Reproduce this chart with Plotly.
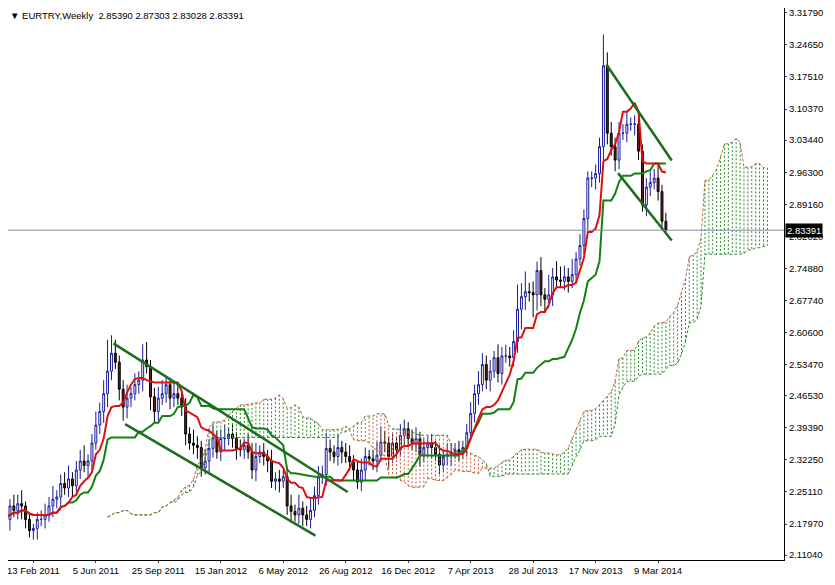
"""EURTRY weekly candles with Ichimoku cloud and channel lines."""

import pandas as pd
import plotly.graph_objects as go

# weekly closes, 13 Feb 2011 onwards
CLOSES = [
    2.19, 2.22, 2.21, 2.225, 2.22, 2.19, 2.165, 2.17, 2.19, 2.19,
    2.20, 2.22, 2.235, 2.24, 2.27, 2.26, 2.28, 2.265, 2.30, 2.32,
    2.31, 2.32, 2.36, 2.40, 2.43, 2.47, 2.52, 2.56, 2.54, 2.48,
    2.44, 2.46, 2.47, 2.49, 2.50, 2.545, 2.53, 2.463, 2.43, 2.46,
    2.47, 2.49, 2.46, 2.47, 2.46, 2.44, 2.38, 2.36, 2.355, 2.35,
    2.305, 2.32, 2.348, 2.372, 2.34, 2.37, 2.37, 2.38, 2.37, 2.348,
    2.345, 2.355, 2.34, 2.30, 2.33, 2.34, 2.33, 2.32, 2.275, 2.28,
    2.275, 2.285, 2.22, 2.208, 2.20, 2.215, 2.20, 2.19, 2.21, 2.243,
    2.284, 2.29, 2.348, 2.34, 2.33, 2.35, 2.34, 2.33, 2.318, 2.30,
    2.273, 2.30, 2.33, 2.325, 2.32, 2.333, 2.362, 2.36, 2.33, 2.36,
    2.345, 2.377, 2.392, 2.37, 2.36, 2.37, 2.333, 2.35, 2.36, 2.35,
    2.335, 2.311, 2.33, 2.335, 2.34, 2.345, 2.34, 2.35, 2.383, 2.426,
    2.47, 2.49, 2.535, 2.50, 2.52, 2.55, 2.515, 2.554, 2.554, 2.55,
    2.586, 2.658, 2.686, 2.697, 2.695, 2.69, 2.744, 2.69, 2.68, 2.69,
    2.73, 2.723, 2.72, 2.73, 2.72, 2.735, 2.77, 2.80, 2.86, 2.95,
    2.95, 2.96, 3.02, 3.20, 3.05, 3.02, 2.99, 3.05, 3.05, 3.07,
    3.07, 3.07, 3.01, 2.89, 2.93, 2.94, 2.95, 2.92, 2.854, 2.834,
]
# upper / lower shadow lengths in thousandths
UP_WICK = [
    20, 15, 25, 20, 30, 10, 15, 10, 15, 20, 25, 20, 30, 15, 20, 25, 30, 15, 20, 25,
    35, 15, 20, 30, 20, 30, 70, 40, 30, 15, 20, 30, 15, 25, 20, 35, 40, 15, 20, 25,
    30, 20, 15, 25, 20, 15, 20, 15, 30, 20, 15, 25, 20, 30, 15, 20, 30, 15, 20, 15,
    20, 15, 25, 20, 30, 15, 20, 15, 25, 15, 20, 15, 20, 25, 15, 30, 15, 20, 25, 20,
    25, 20, 35, 20, 15, 30, 15, 20, 25, 15, 20, 25, 20, 15, 20, 30, 35, 25, 15, 20,
    15, 25, 20, 15, 20, 25, 15, 20, 15, 20, 15, 20, 15, 25, 20, 15, 20, 15, 20, 25,
    20, 30, 25, 20, 25, 15, 30, 20, 25, 20, 25, 55, 30, 45, 20, 25, 20, 30, 15, 45,
    20, 35, 30, 25, 20, 35, 15, 25, 20, 15, 15, 20, 20, 70, 30, 25, 20, 25, 20, 30,
    15, 20, 25, 15, 20, 25, 20, 30, 15, 19,
]
DOWN_WICK = [
    20, 25, 15, 20, 30, 20, 15, 20, 25, 15, 20, 15, 25, 20, 30, 15, 20, 25, 15, 20,
    15, 25, 20, 15, 20, 25, 30, 20, 15, 25, 30, 25, 20, 15, 20, 25, 15, 30, 25, 20,
    15, 20, 25, 20, 15, 20, 25, 15, 20, 25, 20, 15, 25, 20, 15, 20, 25, 15, 20, 25,
    15, 20, 15, 20, 25, 15, 20, 25, 15, 20, 25, 15, 20, 25, 15, 20, 25, 15, 20, 15,
    20, 15, 25, 20, 15, 20, 25, 15, 20, 25, 15, 20, 25, 15, 20, 25, 15, 20, 25, 15,
    20, 15, 25, 20, 15, 20, 25, 15, 20, 25, 15, 20, 15, 20, 25, 15, 20, 15, 20, 15,
    20, 25, 15, 20, 25, 15, 20, 25, 15, 20, 20, 25, 45, 30, 20, 50, 35, 25, 30, 20,
    25, 20, 15, 20, 25, 15, 20, 15, 20, 25, 20, 25, 20, 30, 25, 20, 25, 20, 15, 20,
    15, 25, 20, 15, 25, 20, 15, 20, 20, 4,
]
FIRST_OPEN = 2.20
LAST_PRICE = 2.83391
HEADER = "▼ EURTRY,Weekly  2.85390 2.87303 2.83028 2.83391"

DATE_LABELS = ["13 Feb 2011", "5 Jun 2011", "25 Sep 2011", "15 Jan 2012", "6 May 2012",
               "26 Aug 2012", "16 Dec 2012", "7 Apr 2013", "28 Jul 2013", "17 Nov 2013",
               "9 Mar 2014"]
DATE_BARS = [0, 16, 32, 48, 64, 80, 96, 112, 128, 144, 160]
PRICE_TICKS = [3.31790, 3.24650, 3.17510, 3.10370, 3.03440, 2.96300, 2.89160, 2.82020,
               2.74880, 2.67740, 2.60600, 2.53470, 2.46530, 2.39390, 2.32250, 2.25110,
               2.17970, 2.11040]

# hand-drawn channel lines: (bar, price) pairs
TRENDLINES = [
    ([27.5, 87.5], [2.582, 2.251]),
    ([30.5, 79.25], [2.402, 2.154]),
    ([153.75, 170.5], [3.203, 2.989]),
    ([156.75, 170.5], [2.961, 2.811]),
]

FONT = dict(size=9.5, family="Liberation Sans", color="black")


def build_frame():
    df = pd.DataFrame({"close": CLOSES})
    df["open"] = [FIRST_OPEN] + CLOSES[:-1]
    df["high"] = df[["open", "close"]].max(axis=1) + pd.Series(UP_WICK) / 1000
    df["low"] = df[["open", "close"]].min(axis=1) - pd.Series(DOWN_WICK) / 1000
    mid = lambda n: (df["high"].rolling(n, min_periods=1).max()
                     + df["low"].rolling(n, min_periods=1).min()) / 2
    df["tenkan"] = mid(9)
    df["kijun"] = mid(26)
    df["span_a"] = (df["tenkan"] + df["kijun"]) / 2
    df["span_b"] = mid(52)
    return df


def main():
    df = build_frame()
    bars = list(range(len(df)))
    shifted = [b + 26 for b in bars]

    fig = go.Figure()

    # cloud hatching: vertical dotted strokes per bar
    for color, cond in (("#2e8b2e", True), ("#c0603c", False)):
        xs, ys = [], []
        for x, a, b in zip(shifted, df["span_a"], df["span_b"]):
            if (a >= b) == cond:
                xs += [x, x, None]
                ys += [a, b, None]
        fig.add_trace(go.Scatter(x=xs, y=ys, mode="lines",
                                 line=dict(color=color, width=1, dash="2px,2px"),
                                 hoverinfo="skip"))
    fig.add_trace(go.Scatter(x=shifted, y=df["span_a"], mode="lines",
                             line=dict(color="#c0603c", width=1, dash="3px,2px")))
    fig.add_trace(go.Scatter(x=shifted, y=df["span_b"], mode="lines",
                             line=dict(color="#2e8b2e", width=1, dash="3px,2px")))

    fig.add_trace(go.Candlestick(
        x=bars, open=df["open"], high=df["high"], low=df["low"], close=df["close"],
        increasing=dict(line=dict(color="#1a1aa0", width=1), fillcolor="white"),
        decreasing=dict(line=dict(color="#000000", width=1), fillcolor="#6b1d1d"),
        whiskerwidth=0,
    ))

    fig.add_trace(go.Scatter(x=bars, y=df["kijun"], mode="lines",
                             line=dict(color="#138013", width=2)))
    fig.add_trace(go.Scatter(x=bars, y=df["tenkan"], mode="lines",
                             line=dict(color="#e01010", width=2)))

    for xs, ys in TRENDLINES:
        fig.add_trace(go.Scatter(x=xs, y=ys, mode="lines",
                                 line=dict(color="#1b6e1b", width=2.5)))

    fig.add_hline(y=LAST_PRICE, line=dict(color="#8090a0", width=1))
    fig.add_annotation(x=1, xref="paper", xanchor="left", y=LAST_PRICE, yanchor="middle",
                       text=f"{LAST_PRICE:.5f}", showarrow=False, bgcolor="black",
                       font=dict(FONT, color="white"), xshift=1, borderpad=1)
    fig.add_annotation(x=0, xref="paper", xanchor="left", y=1, yref="paper",
                       yanchor="top", text=HEADER, showarrow=False, font=FONT)

    fig.update_layout(
        width=820, height=570, showlegend=False,
        paper_bgcolor="white", plot_bgcolor="white",
        margin=dict(l=0, r=44, t=0, b=18, autoexpand=False),
        xaxis=dict(range=[0.5, 199.25], tickvals=[b + 7 for b in DATE_BARS],
                   ticktext=DATE_LABELS, showgrid=False, rangeslider=dict(visible=False),
                   showline=True, linecolor="black", ticks="outside", ticklen=2,
                   tickangle=0, tickfont=FONT, zeroline=False, automargin=False,
                   ticklabeloverflow="allow"),
        yaxis=dict(range=[2.0996, 3.3287], side="right", tickvals=PRICE_TICKS,
                   ticktext=[f"{p:.5f}" for p in PRICE_TICKS], showgrid=False,
                   showline=True, linecolor="black", ticks="outside", ticklen=2,
                   tickfont=FONT, zeroline=False, automargin=False,
                   ticklabeloverflow="allow"),
    )

    fig.write_html("out.html")


if __name__ == "__main__":
    main()
